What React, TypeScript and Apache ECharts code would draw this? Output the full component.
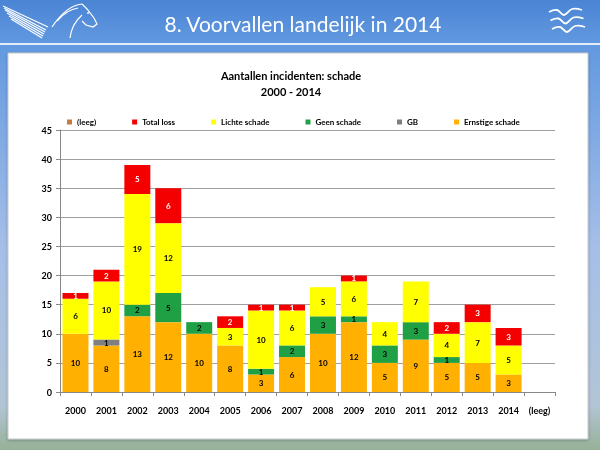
import { useEffect, useRef } from "react";
import * as echarts from "echarts";

const categories = ["2000", "2001", "2002", "2003", "2004", "2005", "2006", "2007", "2008", "2009", "2010", "2011", "2012", "2013", "2014", "(leeg)"];
const ernstige = [10, 8, 13, 12, 10, 8, 3, 6, 10, 12, 5, 9, 5, 5, 3, null];
const gb = [null, 1, null, null, null, null, null, null, null, null, null, null, null, null, null, null];
const geen = [null, null, 2, 5, 2, null, 1, 2, 3, 1, 3, 3, 1, null, null, null];
const lichte = [6, 10, 19, 12, null, 3, 10, 6, 5, 6, 4, 7, 4, 7, 5, null];
const totalLoss = [1, 2, 5, 6, null, 2, 1, 1, null, 1, null, null, 2, 3, 3, null];
const leeg = categories.map(() => null);

const legendOrder = ["(leeg)", "Total loss", "Lichte schade", "Geen schade", "GB", "Ernstige schade"];

const FONT = "Lato, 'Open Sans', sans-serif";

function bar(name: string, data: (number | null)[], color: string, labelColor: string) {
  return {
    name,
    type: "bar" as const,
    stack: "all",
    data,
    barCategoryGap: "16%",
    itemStyle: { color },
    label: {
      show: true,
      position: "inside" as const,
      color: labelColor,
      fontSize: 8,
      fontWeight: "bold" as const,
      fontFamily: FONT,
    },
  };
}

const white = { stroke: "#ffffff", lineWidth: 1.2, fill: "none" };

// pegasus: wing strokes + head outline
const wing = [
  [[3, 6], [48, 27]],
  [[4, 8], [46, 30]],
  [[5, 10], [45, 32]],
  [[7, 13], [44, 34]],
  [[9, 16], [43, 36]],
  [[11, 19], [42, 38]],
].map(([a, b]) => ({ type: "line", shape: { x1: a[0], y1: a[1], x2: b[0], y2: b[1] }, style: white }));

const horse = [
  { type: "bezierCurve", shape: { x1: 52, y1: 27, x2: 82, y2: 4, cpx1: 62, cpy1: 12, cpx2: 72, cpy2: 5 }, style: white },
  { type: "bezierCurve", shape: { x1: 57, y1: 21, x2: 78, y2: 8, cpx1: 64, cpy1: 13, cpx2: 71, cpy2: 9 }, style: white },
  { type: "polyline", shape: { points: [[82, 4], [87, 9], [94, 18], [97, 24], [93, 27], [86, 25], [82, 21]] }, style: white },
  { type: "bezierCurve", shape: { x1: 82, y1: 15, x2: 70, y2: 38, cpx1: 74, cpy1: 22, cpx2: 71, cpy2: 30 }, style: white },
  { type: "circle", shape: { cx: 88, cy: 13, r: 0.9 }, style: { fill: "#fff" } },
];

const birds = [0, 1, 2].map((i) => ({
  type: "polyline",
  shape: {
    smooth: 0.4,
    points: [
      [549 + i * 1.5, 12 + i * 8.5],
      [557 + i * 1.5, 10 + i * 8.5],
      [564 + i * 1.5, 15 + i * 8.5],
      [572 + i * 1.5, 9 + i * 8.5],
      [582 + i * 1.5, 10 + i * 8.5],
    ],
  },
  style: { stroke: "#ffffff", lineWidth: 1.8, fill: "none" },
}));

export default function App() {
  const ref = useRef<HTMLDivElement>(null);

  useEffect(() => {
    if (!ref.current) return;
    const chart = echarts.init(ref.current, undefined, { renderer: "svg" });
    chart.setOption({
      animation: false,
      graphic: [
        {
          type: "rect",
          z: -10,
          shape: { x: 0, y: 0, width: 600, height: 450 },
          style: {
            fill: new echarts.graphic.LinearGradient(0, 0, 0, 1, [
              { offset: 0, color: "#4a84d4" },
              { offset: 0.1, color: "#6299e0" },
              { offset: 0.55, color: "#a6bfe8" },
              { offset: 0.9, color: "#b2c5d6" },
              { offset: 1, color: "#97b197" },
            ]),
          },
        },
        { type: "rect", z: -9, shape: { x: 0, y: 43, width: 600, height: 2 }, style: { fill: "#e4eefa" } },
        {
          type: "rect",
          z: -8,
          shape: { x: 8, y: 53, width: 580, height: 386 },
          style: { fill: "#ffffff", stroke: "#c4c8cc", lineWidth: 1, shadowBlur: 3, shadowColor: "rgba(0,0,0,0.25)", shadowOffsetY: 1 },
        },
        {
          type: "text",
          x: 303,
          y: 23,
          style: { text: "8. Voorvallen landelijk in 2014", fill: "#ffffff", fontSize: 21, fontFamily: FONT, align: "center", verticalAlign: "middle" },
        },
        {
          type: "text",
          x: 291,
          y: 75,
          style: { text: "Aantallen incidenten: schade", fill: "#000", fontSize: 11, fontWeight: "bold", fontFamily: FONT, align: "center", verticalAlign: "middle" },
        },
        {
          type: "text",
          x: 291,
          y: 91,
          style: { text: "2000 - 2014", fill: "#000", fontSize: 11, fontWeight: "bold", fontFamily: FONT, align: "center", verticalAlign: "middle" },
        },
        { type: "group", children: [...wing, ...horse] },
        { type: "group", children: birds },
      ],
      legend: {
        data: legendOrder,
        left: 62,
        top: 113,
        itemWidth: 5,
        itemHeight: 5,
        itemGap: 36,
        icon: "rect",
        textStyle: { fontSize: 8, fontWeight: "bold", fontFamily: FONT, color: "#000" },
      },
      grid: { left: 60, right: 45, top: 130, bottom: 58 },
      xAxis: {
        type: "category",
        data: categories,
        axisLine: { lineStyle: { color: "#888" } },
        axisTick: { show: true, length: 4, lineStyle: { color: "#888" } },
        axisLabel: { color: "#000", fontSize: 9, fontWeight: "bold", fontFamily: FONT, margin: 14, interval: 0 },
      },
      yAxis: {
        type: "value",
        min: 0,
        max: 45,
        interval: 5,
        axisLine: { show: true, lineStyle: { color: "#888" } },
        axisTick: { show: true, length: 4, lineStyle: { color: "#888" } },
        axisLabel: { color: "#000", fontSize: 9, fontWeight: "bold", fontFamily: FONT, margin: 8 },
        splitLine: { lineStyle: { color: "#a0a0a0" } },
      },
      series: [
        bar("Ernstige schade", ernstige, "#ffb000", "#000"),
        bar("GB", gb, "#7f7f7f", "#000"),
        bar("Geen schade", geen, "#20a044", "#000"),
        bar("Lichte schade", lichte, "#ffff00", "#000"),
        bar("Total loss", totalLoss, "#f50000", "#fff"),
        bar("(leeg)", leeg, "#c87c3a", "#000"),
      ],
    });
    return () => chart.dispose();
  }, []);

  return <div ref={ref} style={{ position: "fixed", left: 0, top: 0, width: 600, height: 450 }} />;
}
